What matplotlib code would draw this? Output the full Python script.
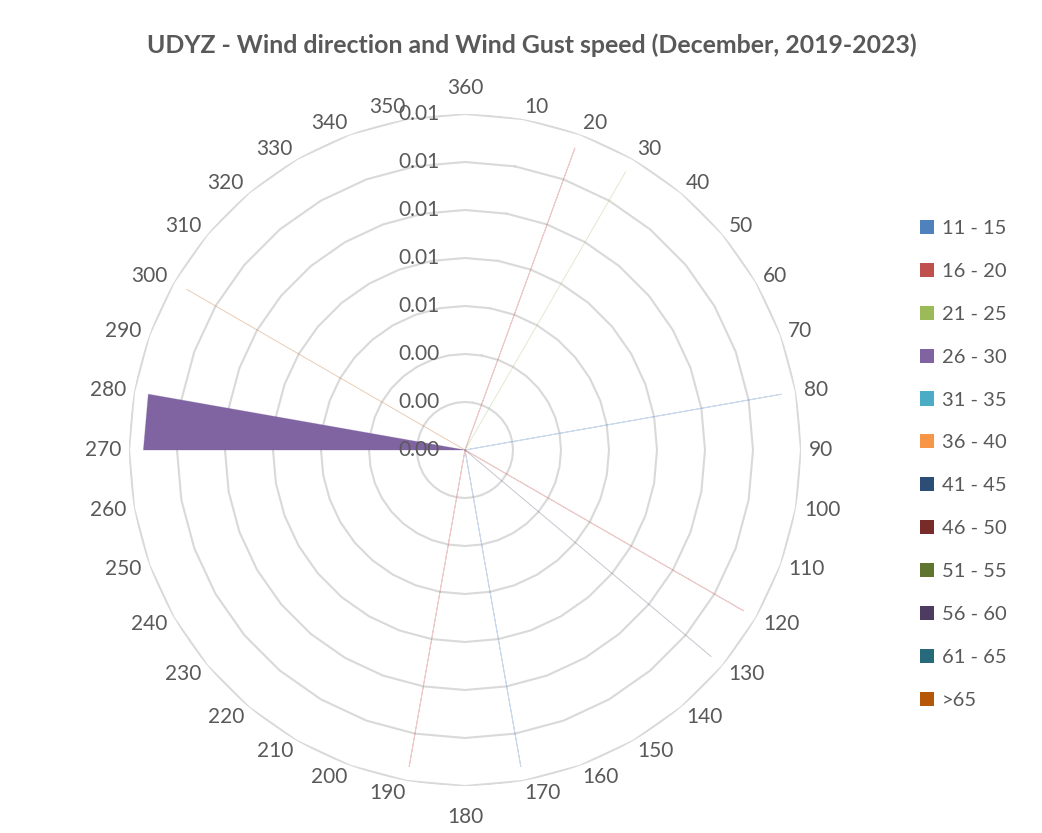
import numpy as np
import matplotlib
matplotlib.use("Agg")
import matplotlib.pyplot as plt
from matplotlib.patches import Patch
from matplotlib.colors import to_rgba
from matplotlib.transforms import ScaledTranslation

plt.rcParams['font.family'] = ['Lato', 'DejaVu Sans']

# directions (deg) : 10 ... 360
directions = [10, 20, 30, 40, 50, 60, 70, 80, 90, 100, 110, 120,
              130, 140, 150, 160, 170, 180, 190, 200, 210, 220, 230, 240,
              250, 260, 270, 280, 290, 300, 310, 320, 330, 340, 350, 360]

# frequency per gust speed class, one value per direction above
s_11_15 = [0, 0, 0, 0, 0, 0, 0, 0.0134, 0, 0, 0, 0, 0, 0, 0, 0, 0.0134, 0, 0, 0, 0, 0, 0, 0, 0, 0, 0, 0, 0, 0, 0, 0, 0, 0, 0, 0]
s_16_20 = [0, 0.0134, 0, 0, 0, 0, 0, 0, 0, 0, 0, 0.0134, 0, 0, 0, 0, 0, 0, 0.0134, 0, 0, 0, 0, 0, 0, 0, 0, 0, 0, 0, 0, 0, 0, 0, 0, 0]
s_21_25 = [0, 0, 0.0134, 0, 0, 0, 0, 0, 0, 0, 0, 0, 0, 0, 0, 0, 0, 0, 0, 0, 0, 0, 0, 0, 0, 0, 0, 0, 0, 0, 0, 0, 0, 0, 0, 0]
s_26_30 = [0, 0, 0, 0, 0, 0, 0, 0, 0, 0, 0, 0, 0, 0, 0, 0, 0, 0, 0, 0, 0, 0, 0, 0, 0, 0, 0.0134, 0.0134, 0, 0, 0, 0, 0, 0, 0, 0]
s_31_35 = [0, 0, 0, 0, 0, 0, 0, 0, 0, 0, 0, 0, 0, 0, 0, 0, 0, 0, 0, 0, 0, 0, 0, 0, 0, 0, 0, 0, 0, 0, 0, 0, 0, 0, 0, 0]
s_36_40 = [0, 0, 0, 0, 0, 0, 0, 0, 0, 0, 0, 0, 0, 0, 0, 0, 0, 0, 0, 0, 0, 0, 0, 0, 0, 0, 0, 0, 0, 0, 0, 0, 0, 0, 0, 0]
s_41_45 = [0, 0, 0, 0, 0, 0, 0, 0, 0, 0, 0, 0, 0, 0, 0, 0, 0, 0, 0, 0, 0, 0, 0, 0, 0, 0, 0, 0, 0, 0, 0, 0, 0, 0, 0, 0]
s_46_50 = [0, 0, 0, 0, 0, 0, 0, 0, 0, 0, 0, 0, 0, 0, 0, 0, 0, 0, 0, 0, 0, 0, 0, 0, 0, 0, 0, 0, 0, 0, 0, 0, 0, 0, 0, 0]
s_51_55 = [0, 0, 0, 0, 0, 0, 0, 0, 0, 0, 0, 0, 0, 0, 0, 0, 0, 0, 0, 0, 0, 0, 0, 0, 0, 0, 0, 0, 0, 0, 0, 0, 0, 0, 0, 0]
s_56_60 = [0, 0, 0, 0, 0, 0, 0, 0, 0, 0, 0, 0, 0.0134, 0, 0, 0, 0, 0, 0, 0, 0, 0, 0, 0, 0, 0, 0, 0, 0, 0, 0, 0, 0, 0, 0, 0]
s_61_65 = [0, 0, 0, 0, 0, 0, 0, 0, 0, 0, 0, 0, 0, 0, 0, 0, 0, 0, 0, 0, 0, 0, 0, 0, 0, 0, 0, 0, 0, 0, 0, 0, 0, 0, 0, 0]
s_gt_65 = [0, 0, 0, 0, 0, 0, 0, 0, 0, 0, 0, 0, 0, 0, 0, 0, 0, 0, 0, 0, 0, 0, 0, 0, 0, 0, 0, 0, 0, 0.0134, 0, 0, 0, 0, 0, 0]

labels = ['11 - 15', '16 - 20', '21 - 25', '26 - 30', '31 - 35', '36 - 40',
          '41 - 45', '46 - 50', '51 - 55', '56 - 60', '61 - 65', '>65']
series = [s_11_15, s_16_20, s_21_25, s_26_30, s_31_35, s_36_40,
          s_41_45, s_46_50, s_51_55, s_56_60, s_61_65, s_gt_65]
colors = ['#4F81BD', '#C0504D', '#9BBB59', '#8064A2', '#4BACC6', '#F79646',
          '#2C4D75', '#772C2A', '#5F7530', '#4D3B62', '#276A7C', '#B65708']

r_ticks = [0, 0.002, 0.004, 0.006, 0.008, 0.010, 0.012, 0.014]

txt = '#595959'
fig = plt.figure(figsize=(10.42, 8.33), dpi=100)
ax = fig.add_axes([129 / 1042, 47 / 833, 672 / 1042, 672 / 833], projection='polar')
ax.set_theta_zero_location('N')
ax.set_theta_direction(-1)
ax.set_ylim(0, r_ticks[-1])
ax.grid(False)
ax.spines['polar'].set_visible(False)

theta = np.deg2rad(directions)
theta_c = np.append(theta, theta[0])

# polygon gridlines like the Excel radar chart
for r in r_ticks[1:]:
    ax.plot(theta_c, [r] * len(theta_c), color='#d9d9d9', lw=1.5, zorder=0)

handles = []
for vals, c, lab in zip(series, colors, labels):
    v = np.append(vals, vals[0])
    ax.fill(theta_c, v, facecolor=c, edgecolor=to_rgba(c, 0.3), lw=0.7, zorder=2)
    handles.append(Patch(facecolor=c, edgecolor='none', label=lab))

ax.set_xticks(theta)
ax.set_xticklabels([])
ax.set_yticks(r_ticks)
ax.set_yticklabels([])
ax.tick_params(length=0)

# category labels, placed the way Excel does it (outside, text leaning away)
for d, t in zip(directions, theta):
    s, c = np.sin(t), np.cos(t)
    if abs(s) < 1e-6:
        ha, va = 'center', ('bottom' if c > 0 else 'top')
        pad = 16 if c > 0 else 21
        dx, dy = 0, pad * np.sign(c)
    else:
        ha, va, pad = ('left' if s > 0 else 'right'), 'center', 8
        dx, dy = pad * s, pad * c + 4 * c
    ax.annotate(str(d), xy=(t, r_ticks[-1]), xytext=(dx * 0.72, dy * 0.72),
                textcoords='offset points', ha=ha, va=va, fontsize=15, color=txt)

off = ScaledTranslation(-25 / 100, 0, fig.dpi_scale_trans)
for r in r_ticks:
    ax.text(0, r, f'{r:.2f}', ha='right', va='center', fontsize=15, color=txt,
            transform=ax.transData + off, zorder=3)

fig.suptitle('UDYZ - Wind direction and Wind Gust speed (December, 2019-2023)',
             x=532 / 1042, y=1 - 45 / 833, va='center', fontsize=17.9, fontweight='bold', color=txt)

fig.legend(handles=handles, loc='upper left', bbox_to_anchor=(920 / 1042, 1 - 220 / 833),
           frameon=False, fontsize=14.5, labelcolor=txt, handlelength=0.7, handleheight=0.7,
           handletextpad=0.4, labelspacing=1.28, borderpad=0, borderaxespad=0)

fig.savefig('out.png', dpi=100, facecolor='white')
